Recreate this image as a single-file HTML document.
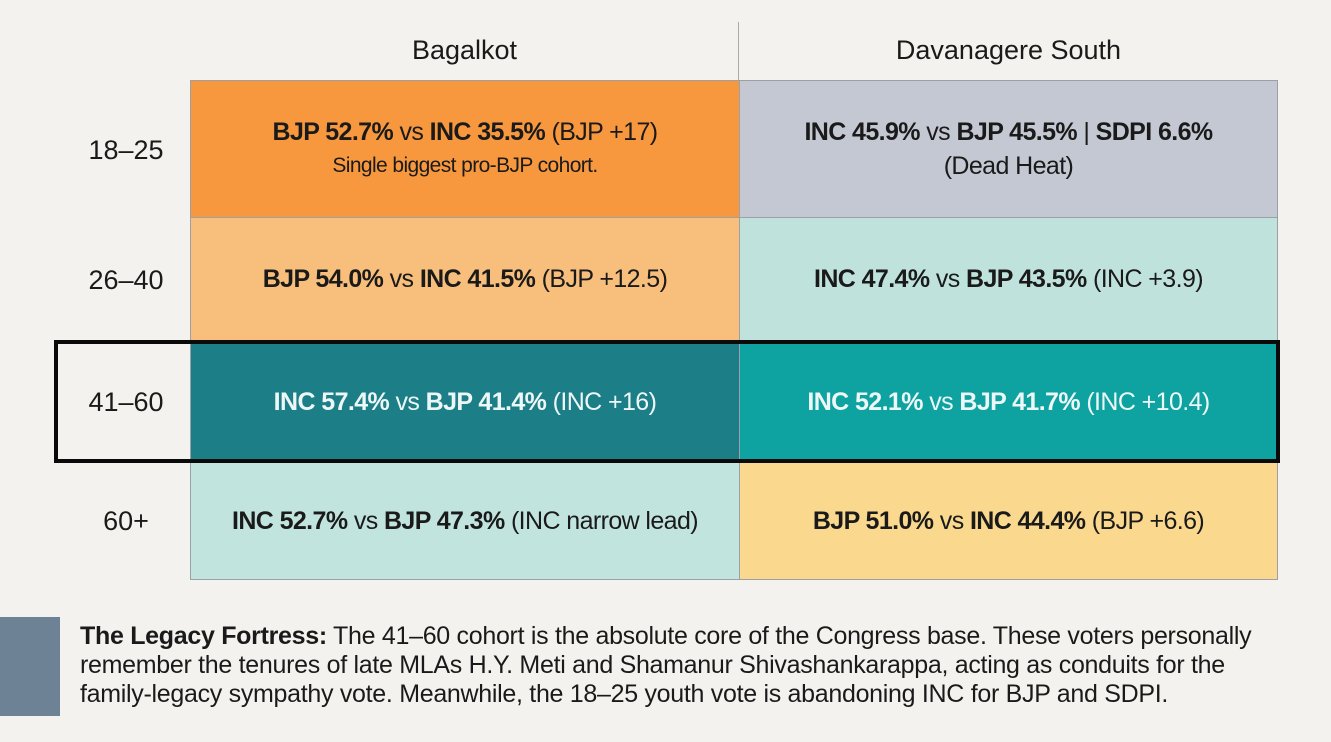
<!DOCTYPE html>
<html><head><meta charset="utf-8"><style>
body{margin:0;width:1331px;height:742px;background:#f3f2ee;font-family:"Liberation Sans",sans-serif;position:relative;overflow:hidden;color:#1a1a1a}
.a{position:absolute}
.c{position:absolute;display:flex;flex-direction:column;align-items:center;justify-content:center;font-size:25px;letter-spacing:-0.6px;box-sizing:border-box;border:1px solid #9aa0a6;text-align:center;line-height:34px}
.c b{font-weight:bold}
.h{position:absolute;font-size:27px;text-align:center}
.r{position:absolute;font-size:27px;width:120px;text-align:center;left:66px}
.w{color:#eef7f7}
</style></head><body>
<div class="h" style="left:190px;width:549px;top:35px">Bagalkot</div>
<div class="h" style="left:739px;width:539px;top:35px">Davanagere South</div>
<div class="a" style="left:738px;top:22px;width:1px;height:58px;background:#aaa"></div>

<div class="c" style="left:190px;top:80px;width:550px;height:138px;background:#f7983f"><div><b>BJP 52.7%</b> vs <b>INC 35.5%</b> (BJP +17)</div><div style="font-size:21px">Single biggest pro-BJP cohort.</div></div>
<div class="c" style="left:739px;top:80px;width:539px;height:138px;background:#c3c8d2"><div><b>INC 45.9%</b> vs <b>BJP 45.5%</b> | <b>SDPI 6.6%</b></div><div>(Dead Heat)</div></div>

<div class="c" style="left:190px;top:217px;width:550px;height:124px;background:#f8bf7c"><div><b>BJP 54.0%</b> vs <b>INC 41.5%</b> (BJP +12.5)</div></div>
<div class="c" style="left:739px;top:217px;width:539px;height:124px;background:#bfe3dc"><div><b>INC 47.4%</b> vs <b>BJP 43.5%</b> (INC +3.9)</div></div>

<div class="c w" style="left:190px;top:340px;width:550px;height:123px;background:#1c7e86"><div><b>INC 57.4%</b> vs <b>BJP 41.4%</b> (INC +16)</div></div>
<div class="c w" style="left:739px;top:340px;width:539px;height:123px;background:#0ea3a1"><div><b>INC 52.1%</b> vs <b>BJP 41.7%</b> (INC +10.4)</div></div>

<div class="c" style="left:190px;top:462px;width:550px;height:118px;background:#c1e5de"><div><b>INC 52.7%</b> vs <b>BJP 47.3%</b> (INC narrow lead)</div></div>
<div class="c" style="left:739px;top:462px;width:539px;height:118px;background:#fad98f"><div><b>BJP 51.0%</b> vs <b>INC 44.4%</b> (BJP +6.6)</div></div>

<div class="a" style="left:54px;top:340px;width:1226px;height:123px;box-sizing:border-box;border:4px solid #0a0a0a"></div>

<div class="r" style="top:135px">18–25</div>
<div class="r" style="top:265px">26–40</div>
<div class="r" style="top:387px">41–60</div>
<div class="r" style="top:506px">60+</div>

<div class="a" style="left:0;top:617px;width:60px;height:99px;background:#6d8294"></div>
<div class="a" style="left:80px;top:622px;width:1240px;font-size:25px;line-height:29px;letter-spacing:-0.3px">
<div style="white-space:nowrap"><b>The Legacy Fortress:</b> The 41–60 cohort is the absolute core of the Congress base. These voters personally</div>
<div style="white-space:nowrap">remember the tenures of late MLAs H.Y. Meti and Shamanur Shivashankarappa, acting as conduits for the</div>
<div style="white-space:nowrap">family-legacy sympathy vote. Meanwhile, the 18–25 youth vote is abandoning INC for BJP and SDPI.</div>
</div>
</body></html>
